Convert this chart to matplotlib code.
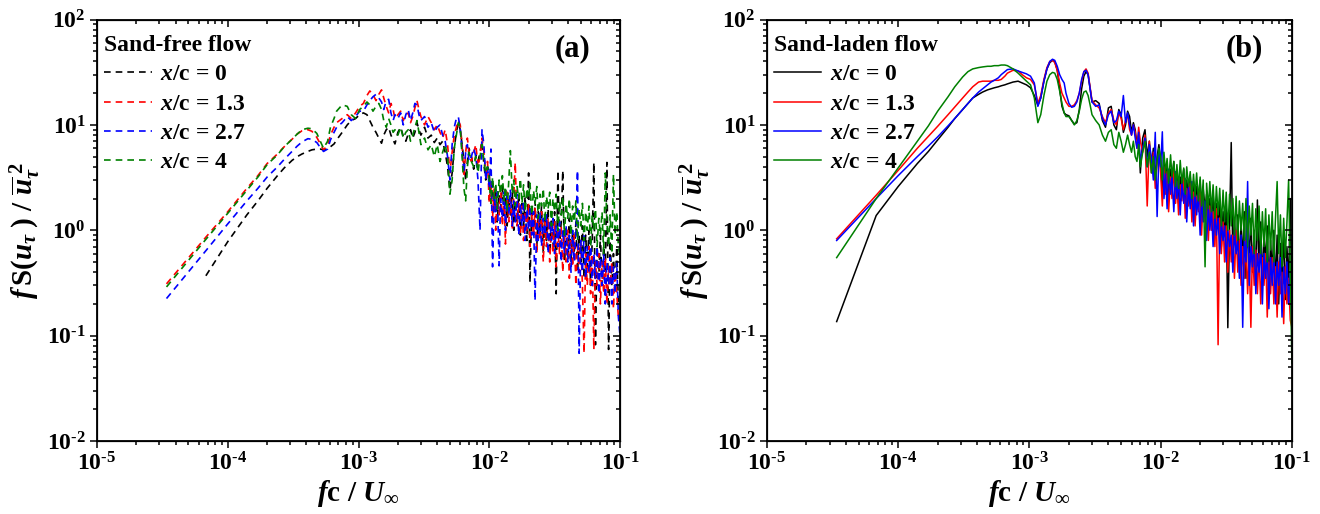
import numpy as np
import matplotlib
matplotlib.use("Agg")
import matplotlib.pyplot as plt
from matplotlib import ticker

plt.rcParams['font.family'] = ['Liberation Serif', 'DejaVu Serif']
plt.rcParams['font.weight'] = 'bold'
plt.rcParams['mathtext.fontset'] = 'custom'
plt.rcParams['mathtext.rm'] = 'Liberation Serif:bold'
plt.rcParams['mathtext.it'] = 'Liberation Serif:italic:bold'
plt.rcParams['mathtext.bf'] = 'Liberation Serif:bold'

# frequency bins fc/U (shared by all curves)
freq = [
    3.4e-5, 6.8e-5, 1.0e-4, 1.4e-4, 1.7e-4, 2.0e-4, 2.4e-4, 2.7e-4, 3.1e-4, 3.4e-4,
    3.7e-4, 4.1e-4, 4.4e-4, 4.8e-4, 5.1e-4, 5.4e-4, 5.8e-4, 6.1e-4, 6.5e-4, 6.8e-4,
    7.5e-4, 8.2e-4, 8.8e-4, 9.5e-4, 1.02e-3,
    1.09e-3, 1.16e-3, 1.22e-3, 1.29e-3, 1.36e-3, 1.43e-3, 1.50e-3, 1.56e-3, 1.63e-3, 1.70e-3,
    1.77e-3, 1.84e-3, 1.90e-3, 2.0e-3, 2.1e-3, 2.2e-3, 2.3e-3, 2.4e-3, 2.5e-3, 2.6e-3,
    2.7e-3, 2.8e-3, 2.9e-3, 3.0e-3, 3.2e-3, 3.4e-3, 3.6e-3, 3.8e-3, 4.0e-3, 4.2e-3,
    4.4e-3, 4.6e-3, 4.8e-3, 5.0e-3, 5.2e-3, 5.4e-3, 5.6e-3, 5.8e-3, 6.0e-3, 6.2e-3,
    6.4e-3, 6.6e-3, 6.8e-3, 7.0e-3, 7.3e-3, 7.6e-3, 7.9e-3, 8.2e-3, 8.5e-3, 8.8e-3,
    9.1e-3, 9.4e-3, 9.7e-3,
    0.0100, 0.0103, 0.0106, 0.0109, 0.0112, 0.0115, 0.0119, 0.0122, 0.0126, 0.0130,
    0.0133, 0.0137, 0.0141, 0.0145, 0.0150, 0.0154, 0.0158, 0.0163, 0.0168, 0.0173,
    0.0178, 0.0183, 0.0188, 0.0194, 0.0200, 0.0205, 0.0211, 0.0218, 0.0224, 0.0231,
    0.0237, 0.0244, 0.0251, 0.0259, 0.0266, 0.0274, 0.0282, 0.0290, 0.0299, 0.0307,
    0.0316, 0.0325, 0.0335, 0.0345, 0.0355, 0.0365, 0.0376, 0.0387, 0.0398, 0.0410,
    0.0422, 0.0434, 0.0447, 0.0460, 0.0473, 0.0487, 0.0501, 0.0516, 0.0531, 0.0546,
    0.0562, 0.0579, 0.0596, 0.0613, 0.0631, 0.0649, 0.0668, 0.0688, 0.0708, 0.0729,
    0.0750, 0.0772, 0.0794, 0.0818, 0.0841, 0.0866, 0.0891, 0.0917, 0.0944, 0.0972,
    0.1000,
]

labels = ['0', '1.3', '2.7', '4']
colors = ['black', '#ff0000', '#0000ff', '#008000']

# (a) sand-free flow
free_x0 = [
    np.nan, 0.37, 0.78, 1.4, 1.9, 2.5, 3.3, 3.9, 4.6, 5.0, 5.3, 5.6, 5.8, 5.9, 5.9,
    5.8, 5.9, 6.2, 6.6, 7.2, 8.5, 10.0, 11.0, 11.5, 12.5,
    13.0, 12.5, 11.0, 9.5, 8.5, 7.5, 6.7, 8.0, 9.0, 9.5, 8.0, 7.2, 6.6, 8.5, 9.5, 7.8, 7.0, 8.2, 9.0, 7.5,
    8.5, 10.5, 9.0, 8.0, 9.5, 7.5, 8.0, 6.8, 7.5, 6.5, 7.0, 5.5, 4.0, 2.4, 3.5, 6.0, 8.5, 10.5, 9.0, 6.5,
    4.5, 3.0, 4.5, 6.0, 5.0, 3.8, 5.2, 4.5, 5.5, 7.0, 4.2, 3.0, 4.0,
    3.5, 1.8, 2.8, 1.5, 2.5, 1.2, 2.2, 1.6, 2.6, 1.3, 2.4, 1.1, 2.0, 1.4, 2.3, 1.0, 1.9, 1.2, 2.2, 0.9,
    1.8, 1.1, 2.1, 0.8, 3.5, 0.32, 1.6, 0.9, 1.9, 0.7, 1.5, 0.9, 1.7, 0.6, 1.4, 0.8, 1.6, 0.6, 1.3, 0.7,
    1.5, 0.25, 3.7, 0.7, 1.2, 3.7, 0.5, 1.1, 0.6, 1.3, 0.5, 1.0, 0.6, 1.2, 0.4, 0.9, 0.5, 1.1, 0.35, 0.9,
    0.45, 1.0, 0.3, 0.8, 4.4, 0.082, 0.7, 0.35, 0.9, 0.3, 0.7, 0.4, 4.4, 0.074, 0.8, 0.3, 0.6, 0.25, 0.7, 0.2,
    0.2,
]
free_x13 = [
    0.31, 0.86, 1.5, 2.5, 3.3, 4.3, 5.3, 6.2, 7.3, 8.2, 8.8, 9.0, 8.7, 7.6, 6.6,
    5.8, 6.4, 8.0, 9.5, 10.5, 11.5, 12.5, 11.5, 13.0, 15.0,
    16.0, 19.0, 21.0, 19.5, 17.0, 19.5, 21.5, 18.0, 15.0, 13.0, 16.0, 14.0, 11.5, 12.5, 13.5, 11.0, 12.5, 13.0, 10.5, 12.0,
    14.5, 17.0, 14.0, 12.0, 10.0, 12.0, 10.5, 9.0, 10.0, 8.5, 7.5, 9.0, 6.5, 3.5, 5.5, 8.0, 9.5, 11.0, 10.0, 6.5,
    3.2, 5.5, 7.5, 5.5, 4.5, 5.5, 6.5, 4.0, 5.0, 7.5, 5.5, 3.5, 4.5,
    1.8, 3.0, 1.3, 2.5, 1.0, 2.2, 1.4, 2.6, 1.1, 2.0, 0.74, 2.3, 1.2, 2.0, 1.0, 2.1, 4.4, 1.1, 1.8, 0.9,
    1.7, 0.8, 1.5, 1.0, 1.8, 0.7, 1.4, 0.9, 1.6, 0.6, 1.3, 0.8, 1.5, 0.5, 1.2, 0.7, 1.3, 0.5, 1.1, 0.6,
    1.2, 0.45, 1.0, 0.6, 1.1, 0.4, 0.9, 0.5, 1.0, 0.35, 0.8, 0.45, 0.9, 0.3, 0.7, 0.4, 0.8, 0.3, 0.068, 0.6,
    0.3, 0.7, 0.25, 0.6, 0.074, 0.5, 0.3, 0.6, 0.2, 0.5, 0.25, 0.55, 0.2, 0.45, 0.3, 0.5, 0.18, 0.4, 0.25, 0.15,
    0.15,
]
free_x27 = [
    0.225, 0.64, 1.15, 1.9, 2.5, 3.2, 4.0, 4.7, 5.6, 6.3, 6.9, 7.4, 7.3, 6.8, 6.1,
    5.6, 5.9, 7.2, 8.5, 9.5, 10.5, 12.0, 11.0, 12.0, 13.5,
    13.5, 15.5, 17.0, 18.5, 19.5, 18.0, 16.5, 14.0, 17.0, 17.5, 13.0, 11.0, 12.5, 11.5, 13.0, 10.0, 12.5, 14.0, 11.0, 13.0,
    16.0, 15.5, 12.5, 11.0, 12.0, 9.5, 10.5, 8.5, 9.5, 10.0, 8.0, 7.0, 5.0, 3.0, 6.5, 9.5, 11.5, 12.0, 9.0, 5.5,
    3.5, 5.5, 6.5, 4.5, 5.0, 6.0, 5.0, 3.0, 1.0, 9.0, 6.5, 3.0, 4.0,
    2.5, 5.9, 0.45, 2.2, 1.5, 2.4, 0.46, 2.0, 1.3, 2.3, 1.0, 2.1, 1.4, 2.4, 1.1, 1.9, 1.2, 2.2, 0.9, 1.8,
    1.1, 1.9, 0.8, 1.6, 1.0, 1.7, 0.9, 1.5, 0.215, 1.4, 0.8, 1.5, 0.7, 1.3, 0.9, 1.4, 0.6, 1.2, 0.8, 1.3,
    0.6, 1.1, 0.7, 1.2, 0.5, 1.0, 0.6, 1.1, 0.5, 0.9, 0.4, 1.0, 0.5, 0.9, 3.7, 0.068, 0.8, 0.4, 0.9, 0.35,
    0.7, 0.4, 0.8, 0.3, 0.6, 0.35, 0.7, 0.25, 0.55, 0.3, 0.6, 0.2, 0.5, 0.3, 0.55, 0.2, 0.45, 0.25, 0.5, 0.15,
    0.1,
]
free_x4 = [
    0.29, 0.82, 1.45, 2.4, 3.2, 4.2, 5.2, 6.2, 7.3, 8.2, 9.0, 9.3, 9.2, 8.3, 7.0,
    6.0, 7.0, 9.5, 11.5, 13.5, 15.5, 15.0, 12.5, 11.5, 14.0,
    15.0, 16.5, 15.5, 13.5, 15.0, 16.0, 14.0, 11.0, 9.5, 11.5, 10.0, 8.5, 9.0, 8.0, 9.5, 7.5, 8.5, 9.0, 7.0, 8.0,
    9.5, 11.0, 8.5, 6.5, 7.5, 5.8, 6.5, 5.0, 6.5, 4.5, 5.5, 6.5, 5.0, 2.2, 3.0, 6.0, 8.0, 10.5, 9.5, 5.0,
    2.5, 1.9, 4.0, 5.5, 4.5, 4.0, 5.0, 3.5, 5.0, 6.5, 4.5, 3.5, 4.0,
    3.0, 1.8, 3.2, 2.0, 2.8, 1.6, 3.0, 2.2, 3.3, 1.9, 2.6, 1.5, 2.9, 5.7, 2.2, 3.0, 1.7, 2.6, 2.0, 3.1,
    1.8, 2.7, 1.5, 2.5, 2.0, 2.8, 1.4, 2.4, 1.8, 2.6, 1.3, 2.2, 1.7, 2.5, 1.2, 2.1, 1.6, 2.3, 1.1, 2.0,
    1.5, 2.2, 1.0, 1.9, 1.4, 2.1, 0.9, 1.8, 1.3, 2.0, 0.9, 1.7, 1.2, 1.9, 0.8, 1.6, 1.1, 1.8, 0.8, 1.5,
    1.0, 1.7, 0.7, 1.4, 1.0, 1.6, 0.7, 1.3, 0.9, 1.5, 0.6, 3.5, 1.2, 0.7, 1.4, 0.6, 3.4, 0.9, 1.5, 0.7,
    0.55,
]

# (b) sand-laden flow
laden_x0 = [
    0.136, 1.38, 2.6, 4.3, 5.6, 7.2, 9.5, 11.5, 14.0, 16.0, 18.0, 19.5, 20.5, 21.5, 22.0,
    22.5, 23.0, 23.5, 24.0, 24.5, 25.5, 26.0, 25.0, 24.0, 22.5,
    19.0, 15.3, 18.0, 26.0, 34.0, 39.0, 41.0, 40.0, 33.0, 22.0, 15.0, 13.0, 12.5, 12.2, 11.0, 10.2, 10.5, 14.0, 22.0, 29.0,
    32.0, 30.0, 22.0, 16.5, 17.0, 16.0, 11.0, 9.5, 14.5, 15.0, 10.0, 9.0, 14.0, 12.5, 8.5, 10.0, 13.5, 12.0, 8.5, 10.5,
    9.0, 6.5, 8.0, 3.5, 7.5, 9.0, 5.0, 7.0, 4.0, 6.0, 3.2, 5.0, 6.5,
    4.5, 2.2, 5.0, 3.0, 4.2, 2.0, 3.8, 2.6, 4.5, 2.3, 3.5, 1.8, 3.2, 2.4, 3.8, 1.7, 3.0, 2.2, 3.3, 1.6,
    2.9, 1.5, 2.6, 2.0, 3.0, 1.3, 2.5, 1.6, 2.2, 1.1, 2.0, 1.2, 2.3, 0.9, 1.8, 1.1, 1.9, 0.7, 1.5, 0.9,
    1.7, 0.119, 1.1, 6.8, 0.5, 1.3, 0.6, 1.4, 0.45, 1.2, 0.5, 1.5, 0.35, 1.1, 0.55, 1.3, 0.4, 1.0, 0.3, 1.94,
    0.45, 1.2, 0.3, 0.9, 0.5, 1.1, 0.25, 0.8, 0.4, 1.0, 0.3, 0.9, 0.2, 0.75, 0.35, 1.0, 0.22, 0.7, 0.3, 2.0,
    0.2,
]
laden_x13 = [
    0.83, 2.15, 3.7, 6.0, 7.8, 9.7, 12.5, 14.8, 18.0, 20.5, 23.0, 25.5, 26.0, 26.0, 26.0,
    26.5, 26.5, 27.0, 29.0, 31.0, 33.0, 32.5, 30.0, 28.0, 27.0,
    24.0, 16.0, 19.0, 27.0, 35.0, 40.0, 41.0, 39.0, 33.0, 25.0, 20.0, 18.0, 16.5, 15.0, 15.0, 15.5, 17.0, 20.0, 26.0, 32.0,
    34.0, 31.0, 23.0, 17.0, 15.5, 14.5, 12.0, 10.5, 13.0, 14.0, 11.0, 10.0, 13.0, 11.5, 9.0, 11.0, 12.5, 9.0, 8.0, 10.0,
    8.5, 6.0, 9.5, 7.0, 5.5, 8.0, 1.7, 7.0, 3.5, 5.5, 2.5, 4.5, 5.5,
    3.5, 1.7, 4.0, 2.2, 3.6, 1.5, 3.2, 2.0, 3.8, 1.8, 2.9, 1.4, 2.7, 1.9, 3.2, 1.3, 2.5, 1.7, 2.8, 1.2,
    2.3, 1.1, 2.1, 1.5, 2.4, 0.9, 2.0, 1.2, 1.8, 0.8, 1.7, 1.0, 1.5, 0.7, 1.6, 0.082, 1.3, 0.6, 1.2, 0.5,
    1.1, 0.4, 1.0, 0.5, 0.9, 0.35, 1.0, 0.4, 0.8, 0.3, 0.7, 0.35, 0.8, 0.25, 0.6, 0.12, 0.7, 0.3, 0.65, 0.25,
    0.6, 0.2, 0.55, 0.3, 0.6, 0.15, 0.5, 0.25, 0.55, 0.2, 0.45, 0.15, 0.5, 0.25, 0.4, 0.13, 0.45, 0.2, 0.35, 0.14,
    0.12,
]
laden_x27 = [
    0.80, 2.0, 3.3, 5.0, 6.3, 7.7, 9.8, 11.5, 14.0, 16.0, 18.0, 20.5, 22.0, 24.0, 25.5,
    26.5, 28.0, 30.0, 32.0, 33.5, 34.0, 32.5, 31.5, 30.5, 29.0,
    25.0, 15.0, 18.0, 26.0, 34.0, 40.0, 42.0, 41.0, 36.0, 30.0, 27.0, 25.0, 20.0, 16.0, 14.7, 15.0, 16.5, 20.0, 27.0, 32.0,
    33.0, 30.0, 22.0, 16.5, 15.0, 15.5, 11.5, 10.0, 12.5, 13.5, 10.5, 11.0, 13.5, 12.0, 19.0, 10.5, 13.0, 10.0, 8.0, 10.0,
    7.5, 6.0, 8.5, 4.5, 6.0, 7.5, 4.0, 6.5, 5.0, 3.0, 8.5, 1.35, 5.5,
    4.0, 8.6, 2.0, 3.5, 1.6, 3.8, 2.2, 3.3, 1.5, 3.6, 2.0, 3.0, 1.4, 2.8, 1.8, 3.1, 1.2, 2.6, 1.6, 2.9,
    1.1, 2.4, 1.4, 2.2, 0.9, 2.0, 1.2, 1.9, 0.8, 1.7, 1.0, 1.6, 0.7, 1.4, 0.9, 1.3, 0.6, 1.2, 0.8, 1.1,
    0.5, 1.0, 0.7, 0.9, 0.4, 1.0, 0.6, 0.8, 0.35, 0.9, 0.12, 0.8, 0.5, 2.9, 0.3, 0.7, 0.45, 0.8, 0.25, 0.6,
    0.4, 0.7, 0.2, 0.6, 0.35, 0.65, 0.18, 0.55, 0.3, 0.6, 0.2, 0.5, 0.3, 0.55, 0.15, 0.45, 0.25, 0.5, 0.2, 0.4,
    0.12,
]
laden_x4 = [
    0.55, 2.0, 3.9, 7.0, 9.8, 13.5, 18.5, 23.0, 28.5, 32.0, 34.0, 35.0, 35.5, 36.0, 36.0,
    36.5, 36.5, 37.0, 37.0, 36.5, 34.0, 31.0, 28.5, 26.0, 24.0,
    18.0, 10.5, 12.5, 19.0, 26.0, 30.0, 31.5, 31.0, 27.0, 21.0, 16.0, 13.0, 12.0, 12.0, 11.0, 10.0, 11.0, 13.5, 17.5, 20.5,
    21.0, 19.0, 15.5, 12.5, 11.0, 10.0, 8.0, 7.0, 8.5, 9.0, 6.5, 6.0, 8.5, 7.0, 5.5, 6.5, 8.0, 6.5, 5.5, 7.0,
    5.0, 4.5, 6.5, 4.0, 5.5, 7.0, 4.0, 5.5, 3.5, 5.0, 3.0, 4.5, 6.0,
    5.0, 3.0, 5.5, 3.5, 4.8, 2.8, 5.2, 3.2, 4.5, 2.6, 4.2, 2.5, 4.6, 2.8, 3.9, 2.2, 4.0, 2.6, 3.6, 2.0,
    3.4, 2.1, 3.5, 1.9, 3.2, 1.7, 3.0, 0.45, 2.8, 1.6, 2.9, 1.5, 2.7, 1.3, 2.6, 1.4, 2.5, 1.1, 2.4, 1.2,
    2.3, 1.0, 2.2, 1.1, 2.0, 0.9, 2.1, 0.8, 1.9, 1.0, 1.8, 0.8, 2.0, 0.7, 1.7, 0.9, 1.8, 0.6, 1.6, 0.8,
    1.7, 0.6, 1.5, 0.7, 1.6, 0.5, 1.4, 0.65, 1.5, 0.5, 1.3, 2.9, 0.6, 1.4, 0.45, 1.3, 0.55, 1.2, 3.0, 0.4,
    0.055,
]

free = [free_x0, free_x13, free_x27, free_x4]
laden = [laden_x0, laden_x13, laden_x27, laden_x4]


def decade(v, pos):
    return r'$\mathbf{10}^{\text{%d}}$' % round(np.log10(v))


def style_axes(ax):
    ax.set_xscale('log')
    ax.set_yscale('log')
    ax.set_xlim(1e-5, 1e-1)
    ax.set_ylim(1e-2, 1e2)
    for axis in (ax.xaxis, ax.yaxis):
        axis.set_major_locator(ticker.LogLocator(base=10, numticks=10))
        axis.set_minor_locator(ticker.LogLocator(base=10, subs=np.arange(2, 10), numticks=10))
        axis.set_major_formatter(ticker.FuncFormatter(decade))
        axis.set_minor_formatter(ticker.NullFormatter())
    ax.tick_params(which='both', direction='out', top=False, right=False,
                   labelsize=17, width=1.1, pad=3)
    ax.tick_params(which='major', length=5)
    ax.tick_params(which='minor', length=3)
    for s in ax.spines.values():
        s.set_linewidth(1.3)
    # mirrored inward ticks on top and right
    axt = ax.twiny()
    axt.set_xscale('log')
    axt.set_xlim(ax.get_xlim())
    axt.xaxis.set_minor_locator(ticker.LogLocator(base=10, subs=np.arange(2, 10), numticks=10))
    axt.tick_params(which='both', direction='in', labeltop=False, width=1.1)
    axt.tick_params(which='major', length=5)
    axt.tick_params(which='minor', length=3)
    axr = ax.twinx()
    axr.set_yscale('log')
    axr.set_ylim(ax.get_ylim())
    axr.yaxis.set_minor_locator(ticker.LogLocator(base=10, subs=np.arange(2, 10), numticks=10))
    axr.tick_params(which='both', direction='in', labelright=False, width=1.1)
    axr.tick_params(which='major', length=5)
    axr.tick_params(which='minor', length=3)
    ax.set_xlabel(r'$f\mathrm{c}\ /\ U_{\infty}$', fontsize=21, labelpad=2)
    ax.set_ylabel(r'$f\,\mathrm{S}(u_{\tau}\;)\ /\ \overline{u}_{\tau}^{\;2}$', fontsize=21, labelpad=3)


fig = plt.figure(figsize=(13.2, 5.14), dpi=100)
ax1 = fig.add_axes([0.0735, 0.142, 0.3962, 0.820])
ax2 = fig.add_axes([0.581, 0.142, 0.3977, 0.820])

for ys, c, lab in zip(free, colors, labels):
    ax1.plot(freq, ys, color=c, lw=1.2, linestyle=(0, (4, 3)), label=r'$x$/c = ' + lab)
for ys, c, lab in zip(laden, colors, labels):
    ax2.plot(freq, ys, color=c, lw=1.1, label=r'$x$/c = ' + lab)

for ax, title, tag in [(ax1, 'Sand-free flow', '(a)'), (ax2, 'Sand-laden flow', '(b)')]:
    ax.legend(title=title, loc='upper left', bbox_to_anchor=(0.014, 0.963), frameon=False,
              fontsize=17, title_fontsize=17, handlelength=2.0, handletextpad=0.35,
              labelspacing=0.33, borderpad=0, borderaxespad=0, alignment='left')
    ax.text(0.91, 0.93, tag, transform=ax.transAxes, fontsize=22, ha='center', va='center')
    style_axes(ax)

fig.savefig('out.png', dpi=100)
